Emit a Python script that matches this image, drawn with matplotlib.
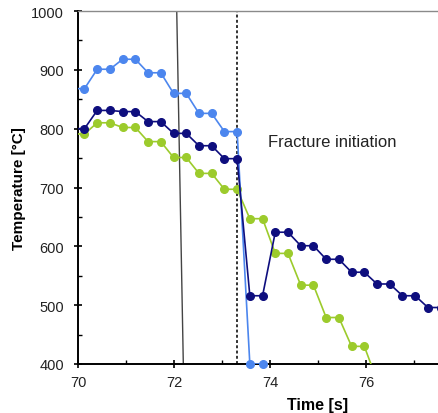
import matplotlib
matplotlib.use("Agg")
import matplotlib.pyplot as plt
import numpy as np

plt.rcParams['font.family'] = ['Liberation Sans', 'DejaVu Sans']

# --- data -------------------------------------------------------------
time = [69.87, 70.135, 70.40, 70.665, 70.93, 71.195, 71.46, 71.725, 71.99,
        72.255, 72.52, 72.785, 73.05, 73.315, 73.58, 73.845, 74.11, 74.375,
        74.64, 74.905, 75.17, 75.435, 75.70, 75.965, 76.23, 76.495, 76.76,
        77.025, 77.29, 77.555]

temp_blue = [868, 868, 901, 901, 918, 918, 895, 895, 860, 860, 826, 826,
             795, 795, 400, 400]
temp_navy = [800, 800, 831, 831, 829, 829, 812, 812, 792, 792, 771, 771,
             749, 749, 516, 516, 624, 624, 601, 601, 578, 578, 556, 556,
             536, 536, 516, 516, 496, 496]
temp_green = [791, 791, 810, 810, 802, 802, 778, 778, 751, 751, 724, 724,
              697, 697, 647, 647, 588, 588, 534, 534, 479, 479, 430, 430, 372]

solid_line_x = [72.057, 72.194]
solid_line_y = [1000, 400]
fracture_time = 73.315

x_ticks = [70, 72, 74, 76]
x_minor = [71, 73, 75, 77]
y_ticks = [400, 500, 600, 700, 800, 900, 1000]
y_minor = [450, 550, 650, 750, 850, 950]

# --- figure -----------------------------------------------------------
W, H = 439, 414
fig = plt.figure(figsize=(W / 100, H / 100), dpi=100)
left_px, right_px, top_px, bottom_px = 78, 558, 12, 365
ax = fig.add_axes([left_px / W, (H - bottom_px) / H,
                   (right_px - left_px) / W, (bottom_px - top_px) / H])

c_blue = '#4C86EE'
c_navy = '#0E0E7E'
c_green = '#9CCB2C'

tb = time[:len(temp_blue)]
ax.plot(tb, temp_blue, color=c_blue, lw=1.2, zorder=4)
tb_vis = [t for t in tb if t >= 70]
tb_vals = [v for t, v in zip(tb, temp_blue) if t >= 70]
ax.plot(tb_vis, tb_vals, ls='none', marker='o', ms=5.5, color=c_blue,
        clip_on=False, zorder=6)

ax.plot(time[:len(temp_navy)], temp_navy, color=c_navy, lw=1.2,
        marker='o', ms=5.5, zorder=5)
ax.plot(time[:len(temp_green)], temp_green, color=c_green, lw=1.2,
        marker='o', ms=5.5, zorder=3)

ax.plot(solid_line_x, solid_line_y, color='#444444', lw=1.0, zorder=2)
ax.axvline(fracture_time, color='#333333', lw=1.4, ls=(0, (1.5, 1.2)), zorder=2)

ax.text(73.96, 779, 'Fracture initiation', fontsize=12, color='#222222',
        ha='left', va='center')

ax.set_xlim(70, 80)
ax.set_ylim(400, 1000)
ax.set_xticks(x_ticks)
ax.set_yticks(y_ticks)
ax.set_xticks(x_minor, minor=True)
ax.set_yticks(y_minor, minor=True)

ax.tick_params(which='major', direction='inout', length=6, width=1.2,
               labelsize=10.5, labelcolor='#222222')
ax.tick_params(axis='y', which='major', pad=7)
ax.tick_params(axis='x', which='major', pad=5)
ax.tick_params(which='minor', direction='in', length=3, width=1.0)
ax.tick_params(axis='y', which='both', right=False)
ax.tick_params(axis='x', which='both', top=False)

for s in ['left', 'bottom']:
    ax.spines[s].set_linewidth(1.4)
    ax.spines[s].set_color('black')
ax.spines['top'].set_color('#8a8a8a')
ax.spines['top'].set_linewidth(1.0)
ax.spines['right'].set_color('#8a8a8a')

ax.set_xlabel('Time [s]', fontsize=11.5, fontweight='bold', labelpad=6)
ax.set_ylabel('Temperature [°C]', fontsize=11, fontweight='bold', labelpad=4)

fig.savefig('out.png', dpi=100)
